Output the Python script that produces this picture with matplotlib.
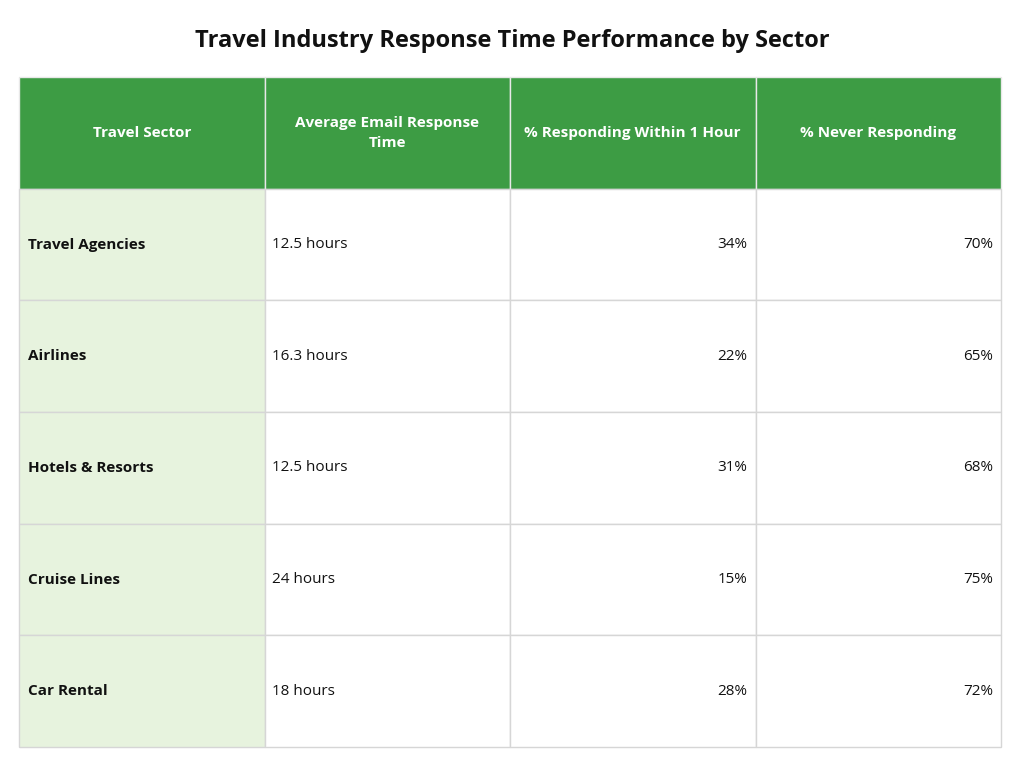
import matplotlib
matplotlib.use("Agg")
import matplotlib.pyplot as plt
from matplotlib.patches import Rectangle

title = "Travel Industry Response Time Performance by Sector"
headers = ["Travel Sector", "Average Email Response\nTime", "% Responding Within 1 Hour", "% Never Responding"]
sectors = ["Travel Agencies", "Airlines", "Hotels & Resorts", "Cruise Lines", "Car Rental"]
avg_response = ["12.5 hours", "16.3 hours", "12.5 hours", "24 hours", "18 hours"]
within_1h = [34, 22, 31, 15, 28]
never = [70, 65, 68, 75, 72]

FONT = "Open Sans"
fig = plt.figure(figsize=(10.24, 7.68), dpi=100)
ax = fig.add_axes([0, 0, 1, 1])
ax.set_xlim(0, 1024)
ax.set_ylim(768, 0)
ax.axis("off")

x0, x1 = 19, 1001
y0, y1 = 77, 747
ncol = 4
nrow = len(sectors) + 1
cw = (x1 - x0) / ncol
rh = (y1 - y0) / nrow
green = "#3d9c44"
light = "#e7f3de"
border = "#d6d6d6"

ax.text(512, 41, title, ha="center", va="center", fontsize=17, fontweight="bold", family=FONT, color="#111111")

for r in range(nrow):
    for c in range(ncol):
        x = x0 + c * cw
        y = y0 + r * rh
        if r == 0:
            fc = green
        elif c == 0:
            fc = light
        else:
            fc = "white"
        ax.add_patch(Rectangle((x, y), cw, rh, facecolor=fc, edgecolor=border if r > 0 else "#e8e8e8", lw=1))

for c, h in enumerate(headers):
    ax.text(x0 + c * cw + cw / 2, y0 + rh / 2, h, ha="center", va="center", fontsize=11,
            fontweight="bold", color="white", family=FONT, linespacing=1.5)

for i in range(len(sectors)):
    yc = y0 + (i + 1) * rh + rh / 2
    ax.text(x0 + 9, yc, sectors[i], ha="left", va="center", fontsize=11, fontweight="bold", family=FONT, color="#111111")
    ax.text(x0 + cw + 8, yc, avg_response[i], ha="left", va="center", fontsize=11, family=FONT, color="#111111")
    ax.text(x0 + 3 * cw - 8, yc, f"{within_1h[i]}%", ha="right", va="center", fontsize=11, family=FONT, color="#111111")
    ax.text(x0 + 4 * cw - 8, yc, f"{never[i]}%", ha="right", va="center", fontsize=11, family=FONT, color="#111111")

fig.savefig("out.png", dpi=100, facecolor="white")
